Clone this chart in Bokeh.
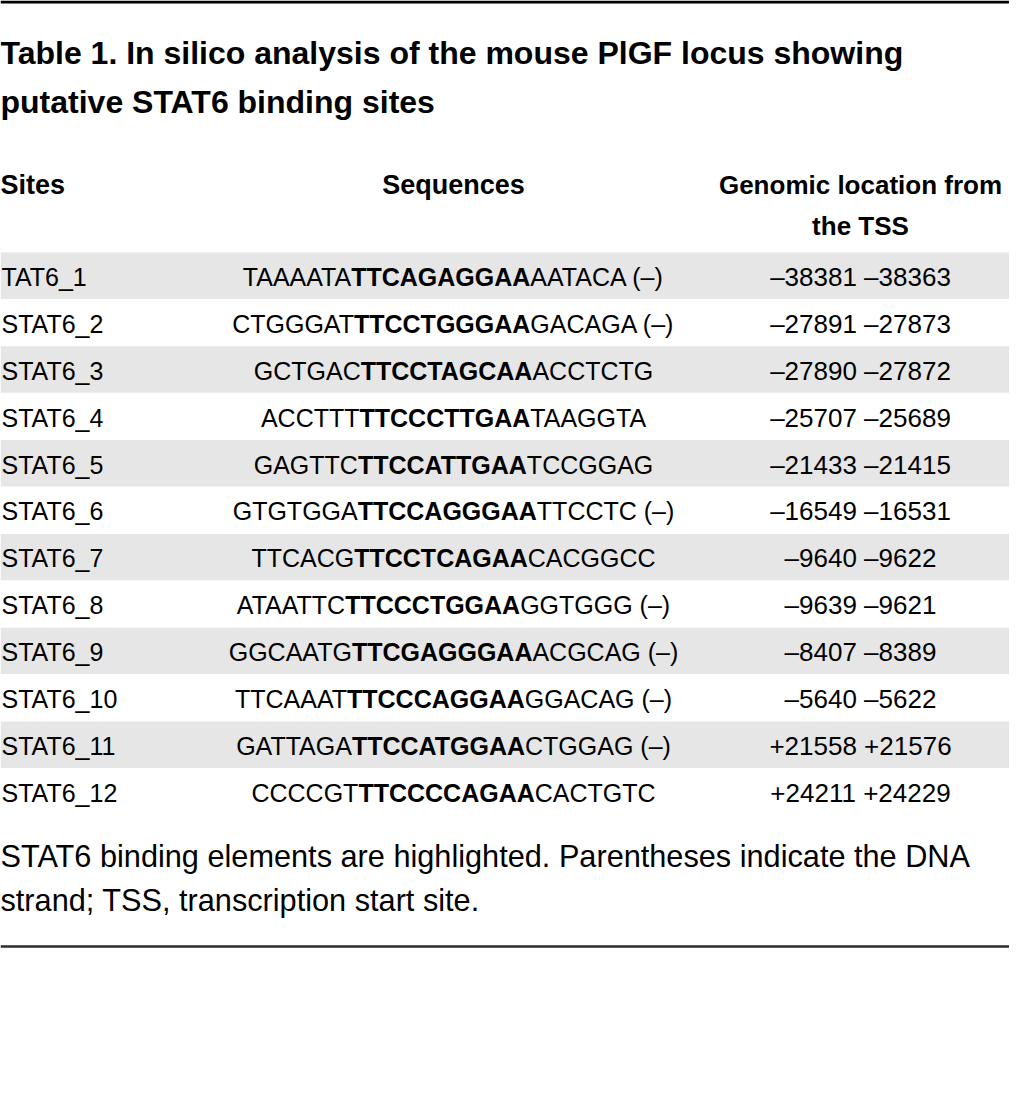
from bokeh.plotting import figure
from bokeh.models import Range1d
from bokeh.core.properties import value
from bokeh.embed import file_html
from bokeh.resources import INLINE

# ---------------- data ----------------
title_lines = ["Table 1. In silico analysis of the mouse PlGF locus showing",
               "putative STAT6 binding sites"]
headers = ["Sites", "Sequences", "Genomic location from", "the TSS"]
sites = ["TAT6_1", "STAT6_2", "STAT6_3", "STAT6_4", "STAT6_5", "STAT6_6",
         "STAT6_7", "STAT6_8", "STAT6_9", "STAT6_10", "STAT6_11", "STAT6_12"]
seq_prefix = ["TAAAATA", "CTGGGAT", "GCTGAC", "ACCTTT", "GAGTTC", "GTGTGGA",
              "TTCACG", "ATAATTC", "GGCAATG", "TTCAAAT", "GATTAGA", "CCCCGT"]
seq_core = ["TTCAGAGGAA", "TTCCTGGGAA", "TTCCTAGCAA", "TTCCCTTGAA", "TTCCATTGAA",
            "TTCCAGGGAA", "TTCCTCAGAA", "TTCCCTGGAA", "TTCGAGGGAA", "TTCCCAGGAA",
            "TTCCATGGAA", "TTCCCCAGAA"]
seq_suffix = ["AATACA", "GACAGA", "ACCTCTG", "TAAGGTA", "TCCGGAG", "TTCCTC",
              "CACGGCC", "GGTGGG", "ACGCAG", "GGACAG", "CTGGAG", "CACTGTC"]
minus_strand = [True, True, False, False, False, True,
                False, True, True, True, True, False]
loc_start = ["–38381", "–27891", "–27890", "–25707", "–21433", "–16549",
             "–9640", "–9639", "–8407", "–5640", "+21558", "+24211"]
loc_end = ["–38363", "–27873", "–27872", "–25689", "–21415", "–16531",
           "–9622", "–9621", "–8389", "–5622", "+21576", "+24229"]
footnote = ["STAT6 binding elements are highlighted. Parentheses indicate the DNA",
            "strand; TSS, transcription start site."]

# ---------------- layout ----------------
W, H = 1009, 1083
FONT = "Liberation Sans"
ROW_FS = 25
SEQ_X = 453
LOC_X = 860
ROW_TOP = 252
ROW_H = 46.9

# advance widths of Liberation Sans (Arial metrics, per 1000 em)
REG = {"A": 667, "C": 722, "G": 778, "T": 611, " ": 278, "(": 333, ")": 333, "–": 556}
BLD = {"A": 722, "C": 722, "G": 778, "T": 611, " ": 278, "(": 333, ")": 333, "–": 556}
KERN = {("A", "T"): -74, ("T", "A"): -74}


def text_w(s, bold, size):
    tbl = BLD if bold else REG
    u = sum(tbl.get(c, 556) for c in s)
    u += sum(KERN.get((a, b), 0) for a, b in zip(s, s[1:]))
    return u * size / 1000.0


p = figure(width=W, height=H, x_range=Range1d(0, W), y_range=Range1d(H, 0),
           output_backend="svg", toolbar_location=None, min_border=0,
           background_fill_color="white", border_fill_color="white")
p.axis.visible = False
p.grid.visible = False
p.outline_line_color = None

# top and bottom rules
p.segment(x0=[0], y0=[1.5], x1=[W], y1=[1.5], line_color="black", line_width=3)
p.segment(x0=[0], y0=[946], x1=[W], y1=[946], line_color="#2b2b2b", line_width=2.5)

# title
p.text(x=[0, 0], y=[52, 101], text=title_lines, text_font=value(FONT),
       text_font_size="32px", text_font_style="bold", text_color="black",
       text_align="left", text_baseline="middle")

# headers
p.text(x=[0], y=[184], text=[headers[0]], text_font=value(FONT), text_font_size="27px",
       text_font_style="bold", text_color="black", text_align="left", text_baseline="middle")
p.text(x=[SEQ_X], y=[184], text=[headers[1]], text_font=value(FONT), text_font_size="27px",
       text_font_style="bold", text_color="black", text_align="center", text_baseline="middle")
p.text(x=[LOC_X, LOC_X], y=[184, 225], text=headers[2:], text_font=value(FONT),
       text_font_size="26px", text_font_style="bold", text_color="black",
       text_align="center", text_baseline="middle")

# row bands
n = len(sites)
tops = [ROW_TOP + i * ROW_H for i in range(n)]
gray_idx = [i for i in range(n) if i % 2 == 0]
p.quad(left=[0] * len(gray_idx), right=[W] * len(gray_idx),
       top=[tops[i] for i in gray_idx], bottom=[tops[i] + ROW_H - 0.5 for i in gray_idx],
       fill_color="#e6e6e6", line_color=None)

ys = [t + ROW_H / 2 + 1 for t in tops]

# sites
p.text(x=[1] * n, y=ys, text=sites, text_font=value(FONT), text_font_size=f"{ROW_FS}px",
       text_color="black", text_align="left", text_baseline="middle")

# sequences (mixed weight, centred as a whole; pieces anchored on the bold core)
core_l, core_r, suf_txt = [], [], []
for i in range(n):
    suf = seq_suffix[i] + (" (–)" if minus_strand[i] else "")
    wp = text_w(seq_prefix[i], False, ROW_FS)
    wc = text_w(seq_core[i], True, ROW_FS)
    ws = text_w(suf, False, ROW_FS)
    left = SEQ_X - (wp + wc + ws) / 2
    core_l.append(left + wp)
    core_r.append(left + wp + wc)
    suf_txt.append(suf)

p.text(x=core_l, y=ys, text=seq_prefix, text_font=value(FONT), text_font_size=f"{ROW_FS}px",
       text_color="black", text_align="right", text_baseline="middle")
p.text(x=core_l, y=ys, text=seq_core, text_font=value(FONT), text_font_size=f"{ROW_FS}px",
       text_font_style="bold", text_color="black", text_align="left", text_baseline="middle")
p.text(x=core_r, y=ys, text=suf_txt, text_font=value(FONT), text_font_size=f"{ROW_FS}px",
       text_color="black", text_align="left", text_baseline="middle")

# genomic location
locs = [f"{a} {b}" for a, b in zip(loc_start, loc_end)]
p.text(x=[LOC_X] * n, y=ys, text=locs, text_font=value(FONT), text_font_size=f"{ROW_FS + 1}px",
       text_color="black", text_align="center", text_baseline="middle")

# footnote
p.text(x=[0, 0], y=[856, 900], text=footnote, text_font=value(FONT), text_font_size="30.7px",
       text_color="black", text_align="left", text_baseline="middle")

open("out.html", "w").write(file_html(p, INLINE))
